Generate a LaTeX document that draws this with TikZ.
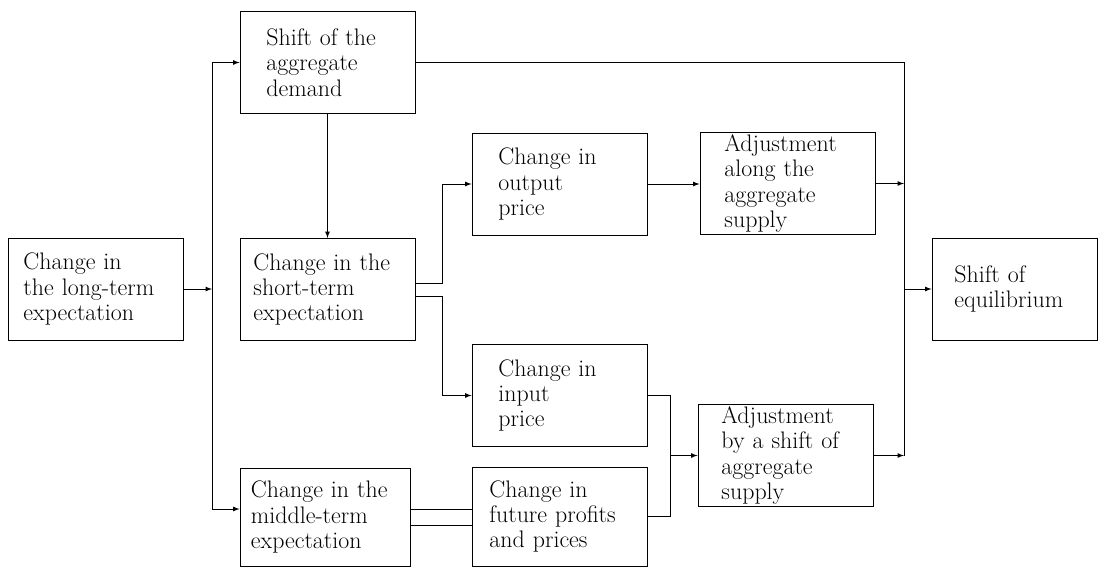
\documentclass[tikz,border=0pt]{standalone}
\usetikzlibrary{positioning, arrows}
\begin{document}
\begin{tikzpicture}[x=0.025cm, y=-0.025cm, line width=0.6pt,
		blk/.style={draw, align=left, inner xsep=0pt, inner ysep=1pt,
			minimum width=4.375cm, minimum height=2.55cm,
			font=\fontsize{17}{18}\selectfont}]
			\useasboundingbox (0,0) rectangle (1101,568);
			% boxes
		 	\node[blk,text width=3.6cm] (lt) at (95.5,289)
		    {Change in\\ the long-term\\ expectation};
		 	\node[blk,text width=3.05cm] (dem) at (327.5,62.5)
		    {Shift of the\\ aggregate\\ demand};
		 	\node[blk,text width=3.7cm] (st) at (327.5,289.5)
		    {Change in the\\ short-term\\ expectation};
		 	\node[blk,text width=3.05cm] (outp) at (559.5,184)
		    {Change in\\ output\\ price};
		 	\node[blk,text width=3.15cm] (adjA) at (787.5,183.5)
		    {Adjustment\\ along the\\ aggregate\\ supply};
		 	\node[blk,text width=3.0cm,minimum width=4.125cm] (equil) at (1014.5,289)
		    {Shift of\\ equilibrium};
		 	\node[blk,text width=3.05cm] (inp) at (559.5,395.5)
		    {Change in\\ input\\ price};
		 	\node[blk,text width=3.5cm,minimum height=2.475cm] (fut) at (559.5,516.5)
		    {Change in\\ future profits\\ and prices};
		 	\node[blk,text width=3.7cm,minimum width=4.25cm,minimum height=2.45cm] (mid) at (325,517)
		    {Change in the\\ middle-term\\ expectation};
		 	\node[blk,text width=3.2cm] (adjS) at (785.5,455.5)
		    {Adjustment\\ by a shift of\\ aggregate\\ supply};
			% bus lines
			\coordinate (ltop) at (212,62.5);
			\coordinate (lbot) at (212,509);
			\coordinate (rtop) at (904,62.5);
			\coordinate (rbot) at (904,455.5);
			\coordinate (sx) at (442,289);
			\coordinate (fx) at (670,455.5);
	        \draw (ltop) -- (lbot);
	        \draw[-latex] (lt.east) -- (lt.east -| ltop);
	        \draw[-latex] (ltop) -- (dem.west);
	        \draw[-latex] (lbot) -- (lbot -| mid.west);
	        \draw[-latex] (dem.south) -- (st.north);
	        \draw (dem.east) -- (rtop) -- (rbot);
	        \draw[-latex] (adjA.east) -- (adjA.east -| rtop);
	        \draw[-latex] (adjS.east) -- (adjS.east -| rtop);
	        \draw[-latex] (equil.west -| rtop) -- (equil.west);
	        \draw[-latex] ([yshift=4.6pt]st.east) -| (sx |- outp.west) -- (outp.west);
	        \draw[-latex] ([yshift=-4.6pt]st.east) -| (sx |- inp.west) -- (inp.west);
	        \draw[-latex] (outp.east) -- (outp.east -| adjA.west);
	        \draw ([yshift=5.7pt]mid.east) -- ([yshift=5.7pt]mid.east -| fut.west);
	        \draw ([yshift=-5.7pt]mid.east) -- ([yshift=-5.7pt]mid.east -| fut.west);
	        \draw (inp.east) -| (fx |- fut.east) -- (fut.east);
	        \draw[-latex] (fx) -- (adjS.west);
		\end{tikzpicture}
\end{document}
